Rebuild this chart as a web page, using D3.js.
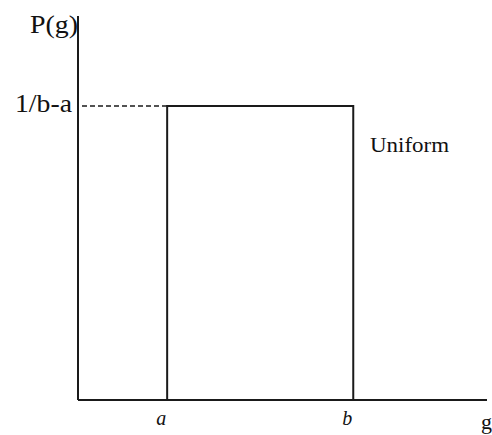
<!DOCTYPE html>
<html>
<head>
<meta charset="utf-8">
<script src="https://cdn.jsdelivr.net/npm/d3@7"></script>
<style>
  body { margin: 0; background: #fff; }
  svg { display: block; }
  text { font-family: "Liberation Serif", Tinos, "Times New Roman", Times, serif; fill: #111; }
</style>
</head>
<body>
<div id="chart"></div>
<script>
// uniform distribution sketch
const boundLabels = ["a", "b"];
const boundValues = [0.218, 0.673];   // a, b on the g axis (0..1)
const density = [1];                  // height of the box, 1/(b-a)
const yLabel = "P(g)";
const xLabel = "g";
const densityLabel = "1/b-a";
const curveLabel = "Uniform";

let width = 492, height = 435;
let margin = {top: 16, right: 5, bottom: 35, left: 78};

let x = d3.scaleLinear()
  .domain([0, 1])
  .range([margin.left, width - margin.right]);

let y = d3.scaleLinear()
  .domain([0, 1.306])
  .range([height - margin.bottom, margin.top]);

const svg = d3.select("#chart")
  .append("svg")
  .attr("width", width)
  .attr("height", height);

const ink = "#1a1a1a";

// axes
svg.append("line")
  .attr("x1", x(0)).attr("x2", x(0))
  .attr("y1", y.range()[1]).attr("y2", y(0))
  .attr("stroke", ink).attr("stroke-width", 2);

svg.append("line")
  .attr("x1", x(0)).attr("x2", x(1))
  .attr("y1", y(0)).attr("y2", y(0))
  .attr("stroke", ink).attr("stroke-width", 2);

// dashed guide from axis to box top
svg.append("line")
  .attr("x1", x(0) + 4).attr("x2", x(boundValues[0]))
  .attr("y1", y(density[0])).attr("y2", y(density[0]))
  .attr("stroke", ink).attr("stroke-width", 1.5)
  .attr("stroke-dasharray", "5,3");

// the box
const [a, b] = boundValues;
svg.append("path")
  .attr("d", d3.line()([[x(a), y(0)], [x(a), y(density[0])], [x(b), y(density[0])], [x(b), y(0)]]))
  .attr("fill", "none")
  .attr("stroke", ink)
  .attr("stroke-width", 2);

// labels
svg.append("text")
  .attr("x", x(0))
  .attr("y", 33)
  .attr("text-anchor", "end")
  .attr("font-size", 25)
  .attr("textLength", 48)
  .attr("lengthAdjust", "spacingAndGlyphs")
  .text(yLabel);

svg.append("text")
  .attr("x", 15)
  .attr("y", y(density[0]) + 6)
  .attr("font-size", 25)
  .attr("textLength", 57)
  .attr("lengthAdjust", "spacingAndGlyphs")
  .text(densityLabel);

svg.append("text")
  .attr("x", 370)
  .attr("y", 152)
  .attr("font-size", 22)
  .attr("textLength", 79)
  .attr("lengthAdjust", "spacingAndGlyphs")
  .text(curveLabel);

svg.selectAll(".bound")
  .data(boundLabels)
  .join("text")
  .attr("class", "bound")
  .attr("x", (d, i) => x(boundValues[i]) - 6)
  .attr("y", 425)
  .attr("text-anchor", "middle")
  .attr("font-size", 20)
  .attr("font-style", "italic")
  .text(d => d);

svg.append("text")
  .attr("x", 481)
  .attr("y", 429)
  .attr("font-size", 22)
  .text(xLabel);
</script>
</body>
</html>
